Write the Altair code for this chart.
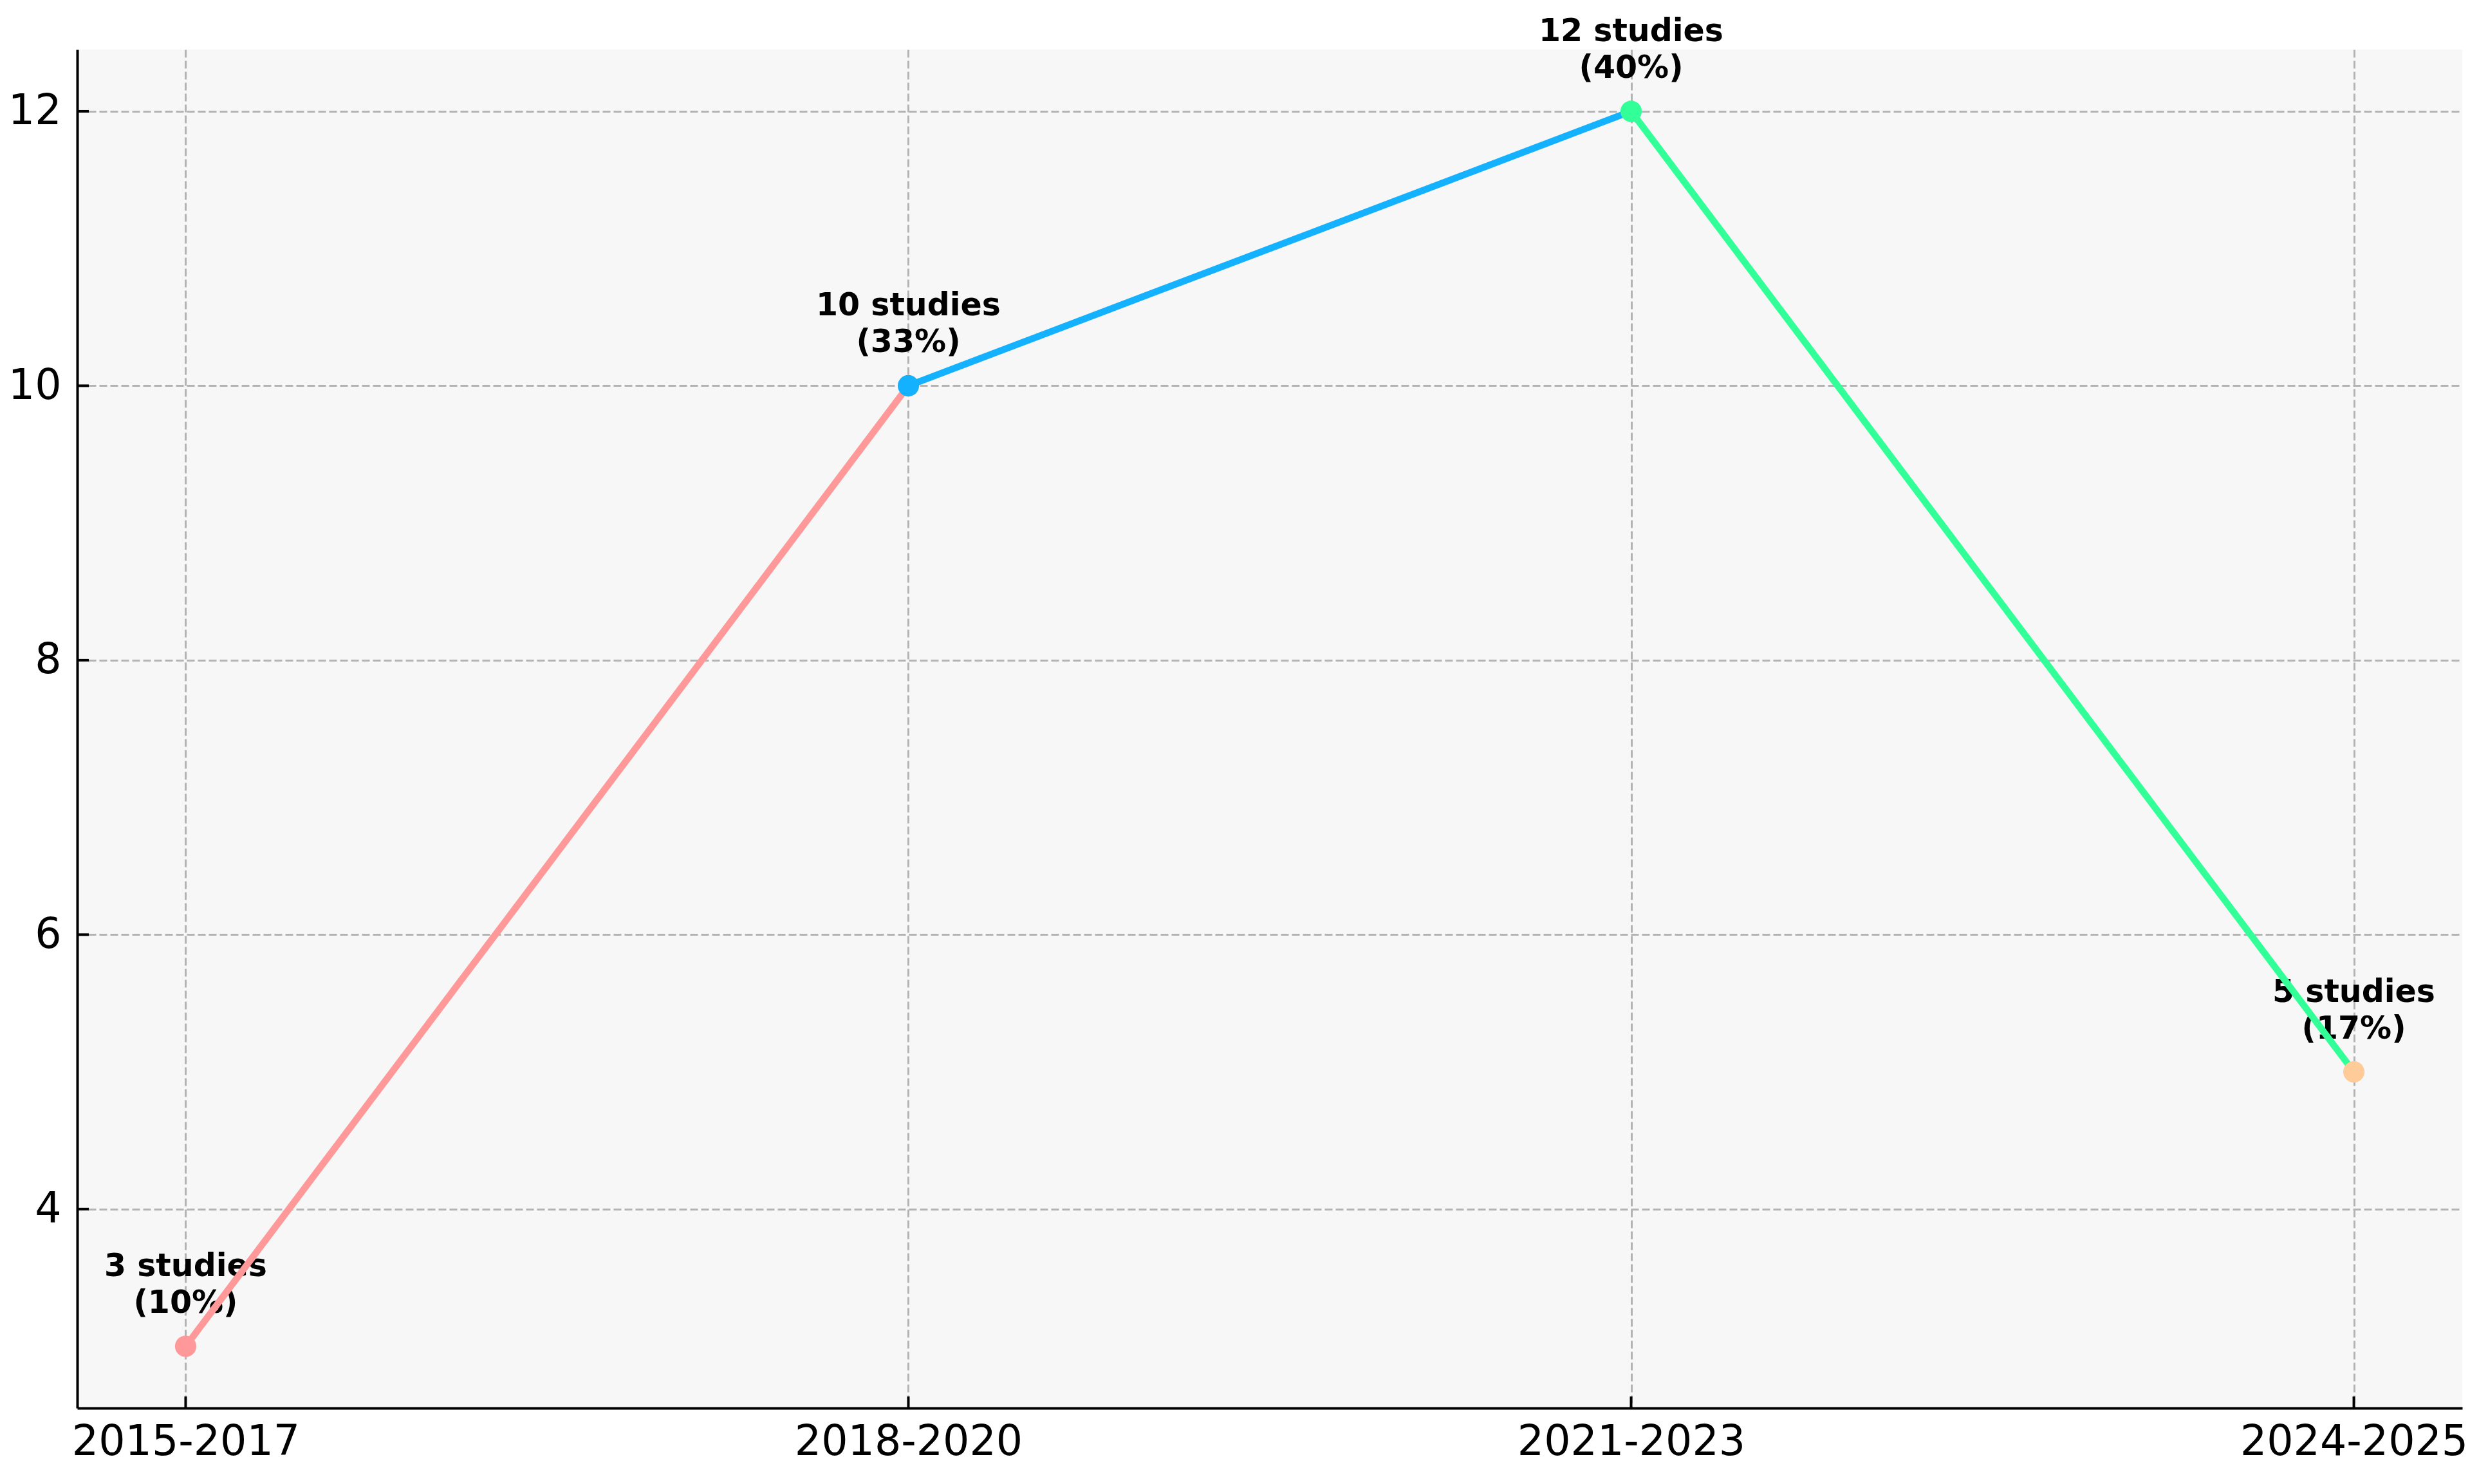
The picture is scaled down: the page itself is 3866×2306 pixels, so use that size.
import altair as alt
import pandas as pd

periods = ["2015-2017", "2018-2020", "2021-2023", "2024-2025"]
studies = [3, 10, 12, 5]
percents = [10, 33, 40, 17]
colors = ["#FF9999", "#14B1FF", "#33FF99", "#FFCC99"]
y_ticks = [4, 6, 8, 10, 12]

W, H = 3706, 2111
FONT = "DejaVu Sans"

pts = pd.DataFrame({
    "idx": list(range(len(periods))),
    "period": periods,
    "studies": studies,
    "color": colors,
    "label": [f"{s} studies\n({p}%)" for s, p in zip(studies, percents)],
})

seg_rows = []
for i in range(len(periods) - 1):
    seg_rows.append({"seg": i, "idx": i, "studies": studies[i], "color": colors[i]})
    seg_rows.append({"seg": i, "idx": i + 1, "studies": studies[i + 1], "color": colors[i]})
segs = pd.DataFrame(seg_rows)

label_expr = "[" + ",".join(f"'{p}'" for p in periods) + "][datum.value]"

xscale = alt.Scale(domain=[-0.15, 3.15], nice=False, zero=False)
yscale = alt.Scale(domain=[2.55, 12.45], nice=False, zero=False)

xaxis = alt.Axis(values=list(range(len(periods))), labelExpr=label_expr, title=None,
                 grid=True, gridColor="#b3b3b3", gridDash=[12, 5], gridWidth=3,
                 domain=True, domainColor="black", domainWidth=4,
                 ticks=False, tickSize=0, labelPadding=21, labelFlush=False,
                 labelLimit=2000, labelOverlap=False, labelBound=False,
                 labelFont=FONT, labelFontSize=65, labelColor="black")
yaxis = alt.Axis(values=y_ticks, title=None, format="d",
                 grid=True, gridColor="#b3b3b3", gridDash=[12, 5], gridWidth=3,
                 domain=True, domainColor="black", domainWidth=4,
                 ticks=False, tickSize=0, labelPadding=25, labelLimit=2000,
                 labelFont=FONT, labelFontSize=65, labelColor="black")

base_pts = alt.Chart(pts)

labels = base_pts.mark_text(
    font=FONT, fontSize=49, fontWeight="bold", color="black",
    align="center", baseline="bottom", dy=-99, lineBreak="\n", lineHeight=57
).encode(
    x=alt.X("idx:Q", scale=xscale, axis=xaxis),
    y=alt.Y("studies:Q", scale=yscale, axis=yaxis),
    text="label:N",
)

lines = alt.Chart(segs).mark_line(strokeWidth=10.5, strokeCap="butt").encode(
    x=alt.X("idx:Q", scale=xscale),
    y=alt.Y("studies:Q", scale=yscale),
    detail="seg:N",
    color=alt.Color("color:N", scale=None),
)

points = base_pts.mark_circle(size=1100, opacity=1).encode(
    x=alt.X("idx:Q", scale=xscale),
    y=alt.Y("studies:Q", scale=yscale),
    color=alt.Color("color:N", scale=None),
)

xticks = alt.Chart(pd.DataFrame({"idx": list(range(len(periods)))})).mark_rule(
    color="black", strokeWidth=4
).encode(
    x=alt.X("idx:Q", scale=xscale),
    y=alt.value(H),
    y2=alt.value(H - 18),
)

yticks = alt.Chart(pd.DataFrame({"v": y_ticks})).mark_rule(
    color="black", strokeWidth=4
).encode(
    y=alt.Y("v:Q", scale=yscale),
    x=alt.value(0),
    x2=alt.value(18),
)

chart = alt.layer(labels, lines, points, xticks, yticks).properties(
    width=W, height=H,
    autosize=alt.AutoSizeParams(type="none"),
    padding={"left": 112, "top": 69, "right": 32, "bottom": 110},
    background="white",
).configure_view(fill="#F7F7F7", stroke=None)

chart.save("out.html", embed_options={"renderer": "svg", "actions": False})
